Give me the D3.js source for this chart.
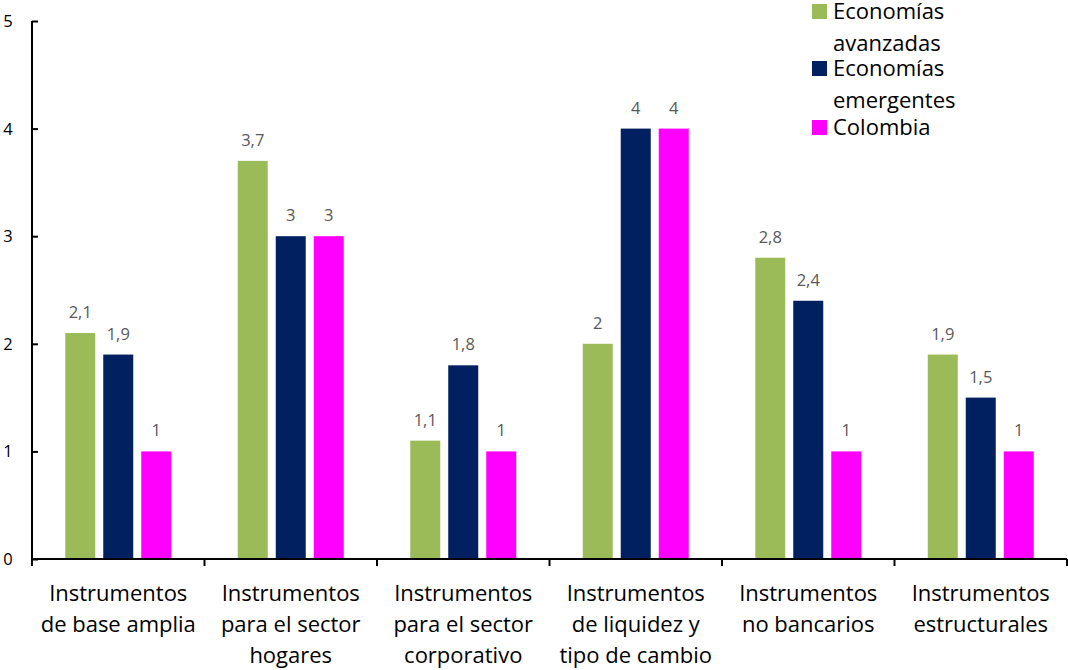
<!DOCTYPE html>
<html><head><meta charset="utf-8">
<script src="https://cdn.jsdelivr.net/npm/d3@7"></script>
<style>body{margin:0;background:#fff;}svg{display:block;}</style>
</head><body>
<svg id="c" width="1068" height="670"></svg>
<script>
const categories = [
  ["Instrumentos","de base amplia"],
  ["Instrumentos","para el sector","hogares"],
  ["Instrumentos","para el sector","corporativo"],
  ["Instrumentos","de liquidez y","tipo de cambio"],
  ["Instrumentos","no bancarios"],
  ["Instrumentos","estructurales"]
];
const seriesNames = [["Economías","avanzadas"],["Economías","emergentes"],["Colombia"]];
const avanzadas = [2.1, 3.7, 1.1, 2, 2.8, 1.9];
const emergentes = [1.9, 3, 1.8, 4, 2.4, 1.5];
const colombia = [1, 3, 1, 4, 1, 1];
const yTicks = [0,1,2,3,4,5];
const colors = ["#9BBB59","#002060","#FF00FF"];
const series = [avanzadas, emergentes, colombia];

const FONT = "'Open Sans', sans-serif";
const svg = d3.select("#c");
const x = d3.scaleBand().domain(d3.range(categories.length)).range([32, 1067]).padding(0);
const y = d3.scaleLinear().domain([0,5]).range([559, 21]);
const xs = d3.scaleBand().domain(d3.range(3)).range([-53, 53]).paddingInner(8/38).paddingOuter(0);
const fmt = v => String(v).replace(".", ",");

// bars
series.forEach((vals, si) => {
  const g = svg.append("g");
  g.selectAll("rect").data(vals).join("rect")
    .attr("x", (d,i) => x(i) + x.bandwidth()/2 + xs(si))
    .attr("width", xs.bandwidth())
    .attr("y", d => y(d))
    .attr("height", d => y(0) - y(d))
    .attr("fill", colors[si]);
  g.selectAll("text").data(vals).join("text")
    .attr("x", (d,i) => x(i) + x.bandwidth()/2 + xs(si) + xs.bandwidth()/2)
    .attr("y", d => y(d) - 15)
    .attr("text-anchor", "middle")
    .attr("font-family", FONT).attr("font-size", 16.5).attr("fill", "#595959")
    .text(d => fmt(d));
});

// y axis
const yAxis = d3.axisRight(y).tickValues(yTicks).tickSize(6).tickFormat("");
const ya = svg.append("g").attr("transform", "translate(32,0)").call(yAxis);
ya.select(".domain").attr("stroke", "#000").attr("stroke-width", 2).attr("d", "M0,21V559");
ya.selectAll(".tick line").attr("stroke", "#000").attr("stroke-width", 2);
svg.append("g").selectAll("text").data(yTicks).join("text")
  .attr("x", 8).attr("y", d => y(d)).attr("dy", "0.36em")
  .attr("text-anchor", "middle")
  .attr("font-family", FONT).attr("font-size", 16.5).attr("fill", "#000")
  .text(d => d);

// x axis
svg.append("line").attr("x1", 32).attr("x2", 1067).attr("y1", 559).attr("y2", 559)
  .attr("stroke", "#000").attr("stroke-width", 2);
const bounds = d3.range(categories.length + 1).map(i => i < categories.length ? x(i) : x.range()[1]);
svg.append("g").selectAll("line").data(bounds).join("line")
  .attr("x1", d => d).attr("x2", d => d).attr("y1", 559).attr("y2", 566)
  .attr("stroke", "#000").attr("stroke-width", 2);
const cl = svg.append("g").selectAll("text").data(categories).join("text")
  .attr("text-anchor", "middle")
  .attr("font-family", FONT).attr("font-size", 22).attr("fill", "#000");
cl.each(function(lines, i) {
  d3.select(this).selectAll("tspan").data(lines).join("tspan")
    .attr("x", x(i) + x.bandwidth()/2)
    .attr("y", (d, j) => 601 + j * 31)
    .text(d => d);
});

// legend
const legendY = [19, 76, 135];
const lg = svg.append("g");
seriesNames.forEach((lines, si) => {
  lg.append("rect").attr("x", 812).attr("y", legendY[si] - 15).attr("width", 15).attr("height", 15)
    .attr("fill", colors[si]);
  const t = lg.append("text").attr("font-family", FONT).attr("font-size", 22).attr("fill", "#000");
  t.selectAll("tspan").data(lines).join("tspan")
    .attr("x", 833).attr("y", (d, j) => legendY[si] + j * 32).text(d => d);
});
</script>
</body></html>
